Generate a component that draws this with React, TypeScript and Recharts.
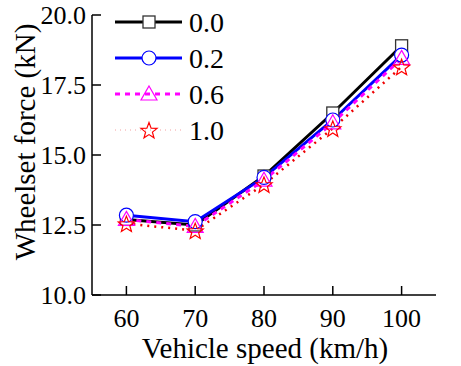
import React from "react";
import {
  LineChart,
  Line,
  XAxis,
  YAxis,
} from "recharts";

const speeds = [60, 70, 80, 90, 100];
const force00 = [12.7, 12.5, 14.25, 16.5, 18.9];
const force02 = [12.85, 12.62, 14.2, 16.25, 18.57];
const force06 = [12.7, 12.45, 14.1, 16.15, 18.45];
const force10 = [12.55, 12.3, 13.95, 15.95, 18.15];
const yTicks = [10, 12.5, 15, 17.5, 20];
const seriesNames = ["0.0", "0.2", "0.6", "1.0"];

const data = speeds.map((s, i) => ({
  speed: s,
  a: force00[i],
  b: force02[i],
  c: force06[i],
  d: force10[i],
}));

const FONT = "'Liberation Serif', 'Times New Roman', serif";

function starPoints(cx: number, cy: number, R: number, r: number) {
  const pts: string[] = [];
  for (let i = 0; i < 10; i++) {
    const rad = i % 2 === 0 ? R : r;
    const ang = -Math.PI / 2 + (i * Math.PI) / 5;
    pts.push(`${cx + rad * Math.cos(ang)},${cy + rad * Math.sin(ang)}`);
  }
  return pts.join(" ");
}

function Marker({ kind, cx, cy }: { kind: string; cx: number; cy: number }) {
  if (kind === "square")
    return (
      <rect x={cx - 6} y={cy - 6} width={12} height={12} fill="#fff" stroke="#333" strokeWidth={1.3} />
    );
  if (kind === "circle")
    return <circle cx={cx} cy={cy} r={7} fill="#fff" stroke="#0000ff" strokeWidth={1.2} />;
  if (kind === "triangle")
    return (
      <polygon
        points={`${cx},${cy - 8} ${cx + 8},${cy + 6} ${cx - 8},${cy + 6}`}
        fill="none"
        stroke="#ff00ff"
        strokeWidth={1.2}
      />
    );
  return (
    <polygon points={starPoints(cx, cy + 1, 8.5, 3.6)} fill="none" stroke="#ff0000" strokeWidth={1.2} />
  );
}

const styles = [
  { key: "a", color: "#000", width: 3, dash: undefined, kind: "square" },
  { key: "b", color: "#0000ff", width: 3, dash: undefined, kind: "circle" },
  { key: "c", color: "#ff00ff", width: 3, dash: "5 5", kind: "triangle" },
  { key: "d", color: "#ee0000", width: 2.5, dash: "2 5", kind: "star" },
];

function dotFor(kind: string) {
  return (props: any) => (
    <Marker key={`${kind}-${props.index}`} kind={kind} cx={props.cx} cy={props.cy} />
  );
}

function XTick(props: any) {
  const { x, y, payload } = props;
  return (
    <g>
      <line x1={x} y1={y} x2={x} y2={y - 9} stroke="#000" strokeWidth={1.5} />
      <text x={x} y={y + 32} textAnchor="middle" fontSize={26} fontFamily={FONT} fill="#000">
        {payload.value}
      </text>
    </g>
  );
}

function YTick(props: any) {
  const { x, y, payload } = props;
  return (
    <g>
      <line x1={x} y1={y} x2={x + 9} y2={y} stroke="#000" strokeWidth={1.5} />
      <text x={x - 6} y={y + 9} textAnchor="end" fontSize={26} fontFamily={FONT} fill="#000">
        {Number(payload.value).toFixed(1)}
      </text>
    </g>
  );
}

function LegendBox() {
  return (
    <svg width={130} height={150} style={{ display: "block" }}>
      {styles.map((s, i) => {
        const cy = 22 + i * 36;
        return (
          <g key={s.key}>
            <line
              x1={0}
              y1={cy}
              x2={67}
              y2={cy}
              stroke={s.key === "d" ? "#f4a0a0" : s.color}
              strokeWidth={s.key === "d" ? 1 : s.width}
              strokeDasharray={s.key === "d" ? "1 4" : s.dash}
            />
            <Marker kind={s.kind} cx={34} cy={cy} />
            <text x={74} y={cy + 10} fontSize={28} fontFamily={FONT} fill="#000">
              {seriesNames[i]}
            </text>
          </g>
        );
      })}
    </svg>
  );
}

export default function App() {
  return (
    <div style={{ position: "absolute", left: 0, top: 0, width: 461, height: 366, background: "#fff" }}>
      <LineChart
        width={461}
        height={366}
        data={data}
        margin={{ top: 15, right: 25, left: 0, bottom: 0 }}
      >
        <XAxis
          dataKey="speed"
          type="number"
          domain={[55, 105]}
          ticks={speeds}
          tickSize={0}
          tickMargin={0}
          tick={<XTick />}
          axisLine={{ stroke: "#000", strokeWidth: 1.5 }}
          tickLine={false}
          height={71}
          label={{
            content: () => (
              <text x={265} y={358} textAnchor="middle" fontSize={29} fontFamily={FONT} fill="#000">
                Vehicle speed (km/h)
              </text>
            ),
          }}
        />
        <YAxis
          type="number"
          domain={[10, 20]}
          ticks={yTicks}
          tickSize={0}
          tickMargin={0}
          tick={<YTick />}
          axisLine={{ stroke: "#000", strokeWidth: 1.5 }}
          tickLine={false}
          width={92}
          label={{
            content: () => (
              <text
                x={35}
                y={142}
                textAnchor="middle"
                fontSize={29}
                fontFamily={FONT}
                fill="#000"
                transform="rotate(-90 35 142)"
              >
                Wheelset force (kN)
              </text>
            ),
          }}
        />
        {styles.map((s, i) => (
          <Line
            key={s.key}
            dataKey={s.key}
            name={seriesNames[i]}
            type="linear"
            stroke={s.color}
            strokeWidth={s.width}
            strokeDasharray={s.dash}
            dot={dotFor(s.kind)}
            activeDot={false}
            isAnimationActive={false}
          />
        ))}
      </LineChart>
      <div style={{ position: "absolute", left: 115, top: 0 }}>
        <LegendBox />
      </div>
    </div>
  );
}
